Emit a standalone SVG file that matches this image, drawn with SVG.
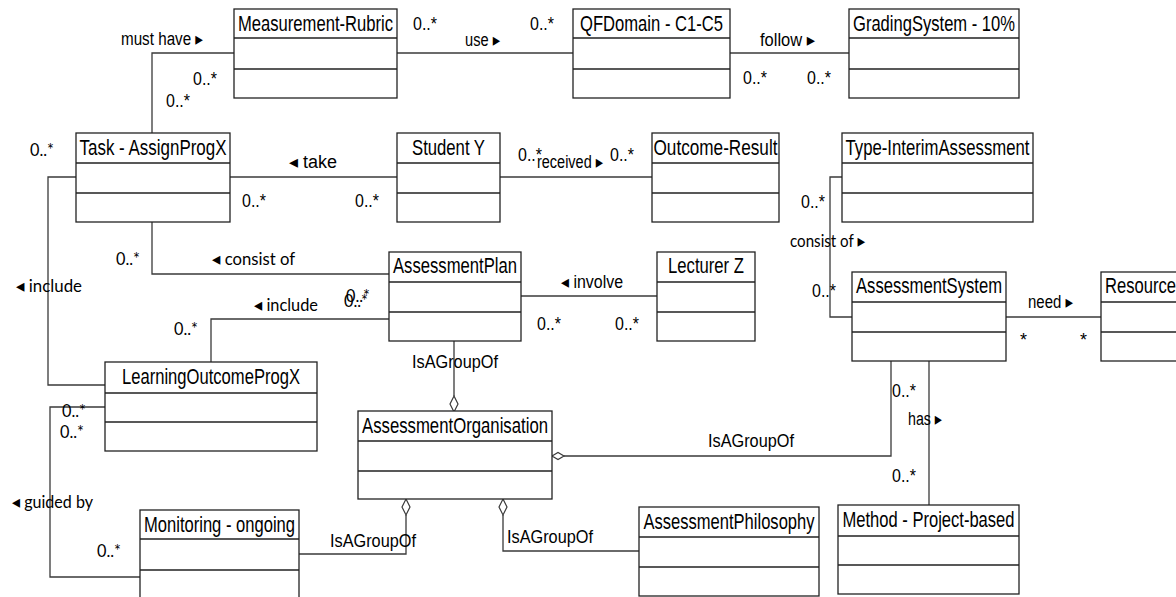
<svg xmlns="http://www.w3.org/2000/svg" width="1176" height="597" viewBox="0 0 1176 597">
<style>
.box{fill:#fff;stroke:#222;stroke-width:1.3}
.sep{stroke:#222;stroke-width:1.3}
.t{font-family:"Liberation Sans",Arial,sans-serif;font-size:22px;fill:#000;text-anchor:middle}
.l{font-family:"Liberation Sans",Arial,"DejaVu Sans",sans-serif;font-size:18px;fill:#000}
.c{font-family:Lato,"Liberation Sans","DejaVu Sans",sans-serif;font-size:18px;fill:#000}
.w{fill:none;stroke:#3a3a3a;stroke-width:1.3}
.d{fill:#fff;stroke:#3a3a3a;stroke-width:1.2}
</style>
<g id="connectors">
<path class="w" d="M152 133V53H234"/>
<path class="w" d="M397 53H573"/>
<path class="w" d="M730 53H849"/>
<path class="w" d="M230 177H397"/>
<path class="w" d="M500 177H652"/>
<path class="w" d="M152 222V274H389"/>
<path class="w" d="M211 362V319H389"/>
<path class="w" d="M76 177H48V385H105"/>
<path class="w" d="M105 407H50V577H140"/>
<path class="w" d="M299 554H406V515"/>
<polygon class="d" points="406,499 410,507 406,515 402,507"/>
<path class="w" d="M639 551H503V515"/>
<polygon class="d" points="503,499 507,507 503,515 499,507"/>
<path class="w" d="M454 341V396"/>
<polygon class="d" points="454,396 458,404 454,412 450,404"/>
<path class="w" d="M891 361V456H564"/>
<polygon class="d" points="552,456 558,452.5 564,456 558,459.5"/>
<path class="w" d="M929 361V505"/>
<path class="w" d="M842 177H830V317H852"/>
<path class="w" d="M1006 317H1101"/>
<path class="w" d="M521 296H657"/>
</g>
<g id="labels">
<text class="l" x="121" y="45" textLength="82" lengthAdjust="spacingAndGlyphs">must have ▸</text>
<text class="l" x="193" y="85" textLength="24" lengthAdjust="spacingAndGlyphs">0..*</text>
<text class="l" x="166" y="107" textLength="24" lengthAdjust="spacingAndGlyphs">0..*</text>
<text class="l" x="413" y="30" textLength="24" lengthAdjust="spacingAndGlyphs">0..*</text>
<text class="l" x="465" y="46" textLength="35" lengthAdjust="spacingAndGlyphs">use ▸</text>
<text class="l" x="530" y="30" textLength="24" lengthAdjust="spacingAndGlyphs">0..*</text>
<text class="l" x="760" y="46" textLength="55" lengthAdjust="spacingAndGlyphs">follow ▸</text>
<text class="l" x="743" y="84" textLength="24" lengthAdjust="spacingAndGlyphs">0..*</text>
<text class="l" x="807" y="84" textLength="24" lengthAdjust="spacingAndGlyphs">0..*</text>
<text class="c" x="30" y="156" textLength="24" lengthAdjust="spacingAndGlyphs">0..*</text>
<text class="l" x="289" y="168" textLength="48" lengthAdjust="spacingAndGlyphs">◂  take</text>
<text class="l" x="242" y="207" textLength="24" lengthAdjust="spacingAndGlyphs">0..*</text>
<text class="l" x="355" y="207" textLength="24" lengthAdjust="spacingAndGlyphs">0..*</text>
<text class="l" x="518" y="161" textLength="24" lengthAdjust="spacingAndGlyphs">0..*</text>
<text class="l" x="537" y="168" textLength="66" lengthAdjust="spacingAndGlyphs">received ▸</text>
<text class="l" x="610" y="161" textLength="24" lengthAdjust="spacingAndGlyphs">0..*</text>
<text class="l" x="801" y="208" textLength="24" lengthAdjust="spacingAndGlyphs">0..*</text>
<text class="c" x="790" y="247" textLength="75" lengthAdjust="spacingAndGlyphs">consist of ▸</text>
<text class="l" x="812" y="297" textLength="24" lengthAdjust="spacingAndGlyphs">0..*</text>
<text class="l" x="1028" y="308" textLength="45" lengthAdjust="spacingAndGlyphs">need ▸</text>
<text class="l" x="1020" y="346">*</text>
<text class="l" x="1080" y="346">*</text>
<text class="l" x="892" y="397" textLength="24" lengthAdjust="spacingAndGlyphs">0..*</text>
<text class="l" x="908" y="425" textLength="34" lengthAdjust="spacingAndGlyphs">has ▸</text>
<text class="l" x="892" y="482" textLength="24" lengthAdjust="spacingAndGlyphs">0..*</text>
<text class="l" x="708" y="447" textLength="86" lengthAdjust="spacingAndGlyphs">IsAGroupOf</text>
<text class="l" x="412" y="368" textLength="86" lengthAdjust="spacingAndGlyphs">IsAGroupOf</text>
<text class="l" x="507" y="543" textLength="86" lengthAdjust="spacingAndGlyphs">IsAGroupOf</text>
<text class="l" x="330" y="547" textLength="86" lengthAdjust="spacingAndGlyphs">IsAGroupOf</text>
<text class="c" x="212" y="265" textLength="83" lengthAdjust="spacingAndGlyphs">◂  consist of</text>
<text class="c" x="116" y="265" textLength="24" lengthAdjust="spacingAndGlyphs">0..*</text>
<text class="c" x="16" y="292" textLength="66" lengthAdjust="spacingAndGlyphs">◂  include</text>
<text class="c" x="254" y="311" textLength="64" lengthAdjust="spacingAndGlyphs">◂  include</text>
<text class="c" x="346" y="302" textLength="24" lengthAdjust="spacingAndGlyphs">0..*</text>
<text class="c" x="344" y="307" textLength="24" lengthAdjust="spacingAndGlyphs">0..*</text>
<text class="c" x="174" y="335" textLength="24" lengthAdjust="spacingAndGlyphs">0..*</text>
<text class="c" x="62" y="417" textLength="24" lengthAdjust="spacingAndGlyphs">0..*</text>
<text class="c" x="60" y="438" textLength="24" lengthAdjust="spacingAndGlyphs">0..*</text>
<text class="c" x="12" y="508" textLength="81" lengthAdjust="spacingAndGlyphs">◂  guided by</text>
<text class="c" x="97" y="557" textLength="24" lengthAdjust="spacingAndGlyphs">0..*</text>
<text class="l" x="561" y="288" textLength="62" lengthAdjust="spacingAndGlyphs">◂  involve</text>
<text class="l" x="537" y="330" textLength="24" lengthAdjust="spacingAndGlyphs">0..*</text>
<text class="l" x="615" y="330" textLength="24" lengthAdjust="spacingAndGlyphs">0..*</text>
</g>
<g id="MeasurementRubric"><rect class="box" x="234" y="9" width="163" height="89"/><path class="sep" d="M234 38H397M234 69H397"/><text class="t" x="315.5" y="31" textLength="155" lengthAdjust="spacingAndGlyphs">Measurement-Rubric</text></g>
<g id="QFDomain"><rect class="box" x="573" y="9" width="157" height="89"/><path class="sep" d="M573 38H730M573 69H730"/><text class="t" x="651.5" y="31" textLength="143" lengthAdjust="spacingAndGlyphs">QFDomain - C1-C5</text></g>
<g id="GradingSystem"><rect class="box" x="849" y="9" width="170" height="89"/><path class="sep" d="M849 38H1019M849 69H1019"/><text class="t" x="934" y="31" textLength="162" lengthAdjust="spacingAndGlyphs">GradingSystem - 10%</text></g>
<g id="Task"><rect class="box" x="76" y="133" width="154" height="89"/><path class="sep" d="M76 163H230M76 193H230"/><text class="t" x="153" y="155" textLength="147" lengthAdjust="spacingAndGlyphs">Task - AssignProgX</text></g>
<g id="Student"><rect class="box" x="397" y="133" width="103" height="89"/><path class="sep" d="M397 163H500M397 193H500"/><text class="t" x="448.5" y="155" textLength="73" lengthAdjust="spacingAndGlyphs">Student Y</text></g>
<g id="OutcomeResult"><rect class="box" x="652" y="133" width="127" height="89"/><path class="sep" d="M652 163H779M652 193H779"/><text class="t" x="715.5" y="155" textLength="124" lengthAdjust="spacingAndGlyphs">Outcome-Result</text></g>
<g id="TypeInterim"><rect class="box" x="842" y="133" width="191" height="89"/><path class="sep" d="M842 163H1033M842 193H1033"/><text class="t" x="937.5" y="155" textLength="184" lengthAdjust="spacingAndGlyphs">Type-InterimAssessment</text></g>
<g id="AssessmentPlan"><rect class="box" x="389" y="252" width="132" height="89"/><path class="sep" d="M389 282H521M389 312H521"/><text class="t" x="455" y="273" textLength="124" lengthAdjust="spacingAndGlyphs">AssessmentPlan</text></g>
<g id="Lecturer"><rect class="box" x="657" y="252" width="98" height="89"/><path class="sep" d="M657 282H755M657 312H755"/><text class="t" x="706" y="273" textLength="76" lengthAdjust="spacingAndGlyphs">Lecturer Z</text></g>
<g id="AssessmentSystem"><rect class="box" x="852" y="272" width="154" height="89"/><path class="sep" d="M852 302H1006M852 332H1006"/><text class="t" x="929" y="293" textLength="146" lengthAdjust="spacingAndGlyphs">AssessmentSystem</text></g>
<g id="Resource"><rect class="box" x="1101" y="272" width="85" height="89"/><path class="sep" d="M1101 302H1186M1101 332H1186"/><text class="t" x="1105" y="293" style="text-anchor:start" textLength="71" lengthAdjust="spacingAndGlyphs">Resource</text></g>
<g id="LearningOutcome"><rect class="box" x="105" y="362" width="212" height="89"/><path class="sep" d="M105 393H317M105 422H317"/><text class="t" x="211" y="384" textLength="178" lengthAdjust="spacingAndGlyphs">LearningOutcomeProgX</text></g>
<g id="AssessmentOrganisation"><rect class="box" x="358" y="411" width="194" height="88"/><path class="sep" d="M358 441H552M358 471H552"/><text class="t" x="455" y="433" textLength="186" lengthAdjust="spacingAndGlyphs">AssessmentOrganisation</text></g>
<g id="Monitoring"><rect class="box" x="140" y="510" width="159" height="92"/><path class="sep" d="M140 539H299M140 570H299"/><text class="t" x="219.5" y="532" textLength="151" lengthAdjust="spacingAndGlyphs">Monitoring - ongoing</text></g>
<g id="AssessmentPhilosophy"><rect class="box" x="639" y="507" width="180" height="89"/><path class="sep" d="M639 537H819M639 567H819"/><text class="t" x="729" y="529" textLength="171" lengthAdjust="spacingAndGlyphs">AssessmentPhilosophy</text></g>
<g id="Method"><rect class="box" x="838" y="505" width="181" height="89"/><path class="sep" d="M838 536H1019M838 565H1019"/><text class="t" x="928.5" y="527" textLength="172" lengthAdjust="spacingAndGlyphs">Method - Project-based</text></g>
</svg>
